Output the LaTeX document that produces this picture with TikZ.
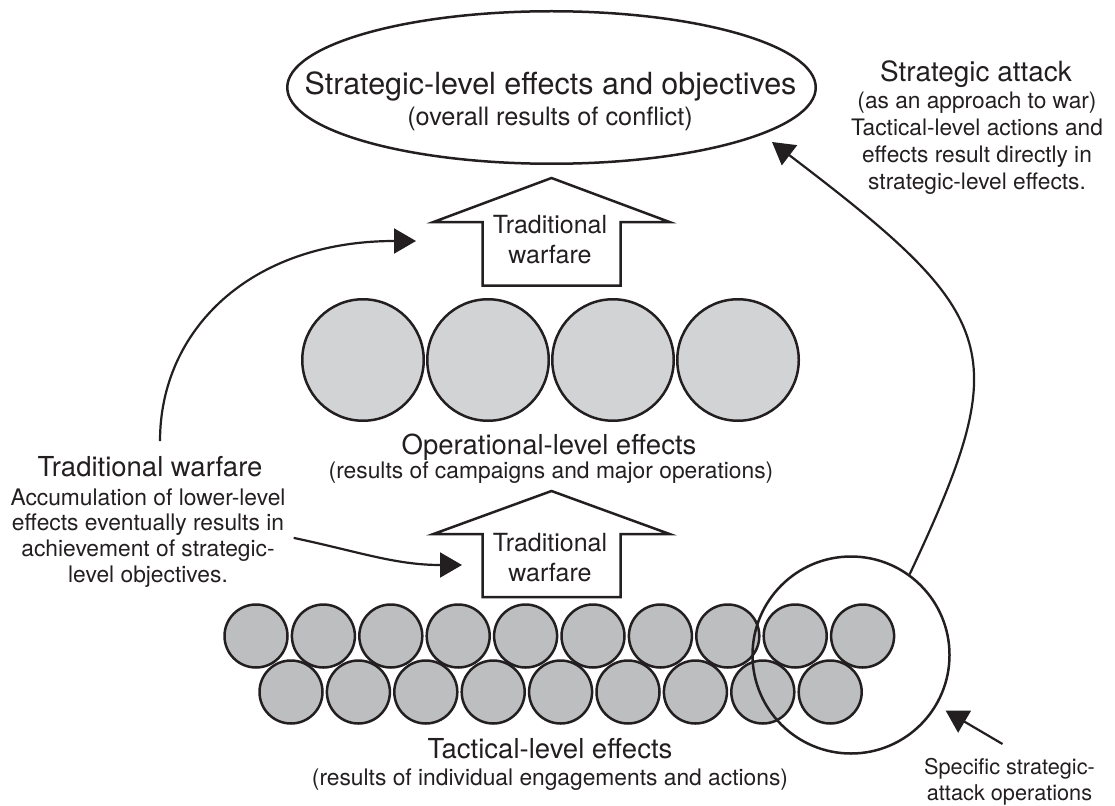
\documentclass[tikz,border=0pt]{standalone}
\usepackage{fontspec}
\setmainfont{TeX Gyre Heros}
\usepackage{tikz}
\usetikzlibrary{arrows.meta,shapes.geometric}
\definecolor{ink}{RGB}{35,31,32}
\definecolor{opgray}{RGB}{209,211,212}
\definecolor{tacgray}{RGB}{188,190,192}

\begin{document}
\begin{tikzpicture}[x=1pt,y=1pt,>={Triangle[length=22pt,width=25pt]},
                    ink,line join=miter,node distance=125pt]
  \tikzstyle{every node}=[inner sep=0pt,text=ink]
  \tikzstyle{goalbox}=[ellipse,draw,line width=2.5pt,minimum width=528.5pt,minimum height=152.5pt]
  \tikzstyle{opcirc}=[circle,draw,fill=opgray,line width=2.5pt,minimum size=121.5pt]
  \tikzstyle{taccirc}=[circle,draw,fill=tacgray,line width=2.5pt,minimum size=63pt,node distance=67.4pt]
  \tikzstyle{ring}=[circle,draw,line width=2.5pt,minimum size=197pt]
  \tikzstyle{outline}=[line width=2.5pt]
  \tikzstyle{link}=[->,line width=2.2pt]
  \tikzstyle{titlefont}=[font=\fontsize{30.5}{32}\selectfont]
  \tikzstyle{levelfont}=[font=\fontsize{27.5}{30}\selectfont]
  \tikzstyle{subfont}=[font=\fontsize{25.3}{30}\selectfont]
  \tikzstyle{boxfont}=[font=\fontsize{25}{30.5}\selectfont,align=center]
  \tikzstyle{notefont}=[font=\fontsize{22.8}{25.7}\selectfont,align=center]

  \useasboundingbox (0,0) rectangle (1115,-805);

  % strategic level
  \node[goalbox] (goal) at (551.5,-87.5) {};
  \node[titlefont,anchor=base] (goalt) at (550.5,-95) {Strategic-level effects and objectives};
  \node[subfont,anchor=base] (goals) at (550,-126) {(overall results of conflict)};

  % upper arrow
  \coordinate (optip) at (551.5,-178);
  \draw[outline,shift={(optip)}] (0,0) -- (118,-44) -- (69,-44) -- (69,-107.5)
    -- (-69,-107.5) -- (-69,-44) -- (-118,-44) -- cycle;
  \node[boxfont,anchor=north] (optrad) at (550,-215) {Traditional\\warfare};

  % operational level
  \node[opcirc] (op1) at (363,-360) {};
  \node[opcirc] (op2) [right of=op1] {};
  \node[opcirc] (op3) [right of=op2] {};
  \node[opcirc] (op4) [right of=op3] {};
  \node[levelfont,anchor=base] (opt) at (549,-454) {Operational-level effects};
  \node[notefont,anchor=base] (ops) at (551,-478.5) {(results of campaigns and major operations)};

  % lower arrow
  \coordinate (tactip) at (551.5,-491);
  \draw[outline,shift={(tactip)}] (0,0) -- (118,-43) -- (69,-43) -- (69,-106)
    -- (-69,-106) -- (-69,-43) -- (-118,-43) -- cycle;
  \node[boxfont,anchor=north] (tactrad) at (550,-533) {Traditional\\warfare};

  % tactical level
  \node[taccirc] (ta1) at (256,-636) {};
  \node[taccirc] (ta2) [right of=ta1] {};
  \node[taccirc] (ta3) [right of=ta2] {};
  \node[taccirc] (ta4) [right of=ta3] {};
  \node[taccirc] (ta5) [right of=ta4] {};
  \node[taccirc] (ta6) [right of=ta5] {};
  \node[taccirc] (ta7) [right of=ta6] {};
  \node[taccirc] (ta8) [right of=ta7] {};
  \node[taccirc] (ta9) [right of=ta8] {};
  \node[taccirc] (ta10) [right of=ta9] {};
  \node[taccirc] (tb1) at (291,-692) {};
  \node[taccirc] (tb2) [right of=tb1] {};
  \node[taccirc] (tb3) [right of=tb2] {};
  \node[taccirc] (tb4) [right of=tb3] {};
  \node[taccirc] (tb5) [right of=tb4] {};
  \node[taccirc] (tb6) [right of=tb5] {};
  \node[taccirc] (tb7) [right of=tb6] {};
  \node[taccirc] (tb8) [right of=tb7] {};
  \node[taccirc] (tb9) [right of=tb8] {};
  \node[levelfont,anchor=base] (tact) at (550,-758) {Tactical-level effects};
  \node[notefont,anchor=base] (tacs) at (550,-785) {(results of individual engagements and actions)};

  % strategic attack
  \node[ring] (strat) at (851,-655) {};
  \node[notefont,font=\fontsize{21.7}{26}\selectfont,anchor=north] (spec) at (1009.5,-758)
    {Specific strategic-\\attack operations};
  \node[levelfont,font=\fontsize{27.9}{30}\selectfont,anchor=base] (sat) at (976,-82) {Strategic attack};
  \node[notefont,font=\fontsize{22.7}{27}\selectfont,anchor=north] (satnote) at (977,-92)
    {(as an approach to war)\\Tactical-level actions and\\effects result directly in\\strategic-level effects.};

  % traditional warfare
  \node[levelfont,anchor=base] (twt) at (150,-476.4) {Traditional warfare};
  \node[notefont,anchor=north] (twb) at (148,-488.3)
    {Accumulation of lower-level\\effects eventually results in\\achievement of strategic-\\level objectives.};

  \coordinate (twend) at (416,-241);
  \coordinate (lowend) at (462,-565);
  \coordinate (satend) at (772,-142);

  \draw[link] ([xshift=10pt,yshift=15pt]twt.north) .. controls (160,-330) and (250,-241) .. (twend);
  \draw[link] ([xshift=8pt]twb.east) to[out=-12,in=180] (lowend);
  \draw[link] (strat.54) .. controls (1015,-350) and (1002,-317) .. (satend);
  \draw[link,shorten >=10pt] ([xshift=-7pt,yshift=14pt]spec.north) -- (strat);
\end{tikzpicture}
\end{document}
